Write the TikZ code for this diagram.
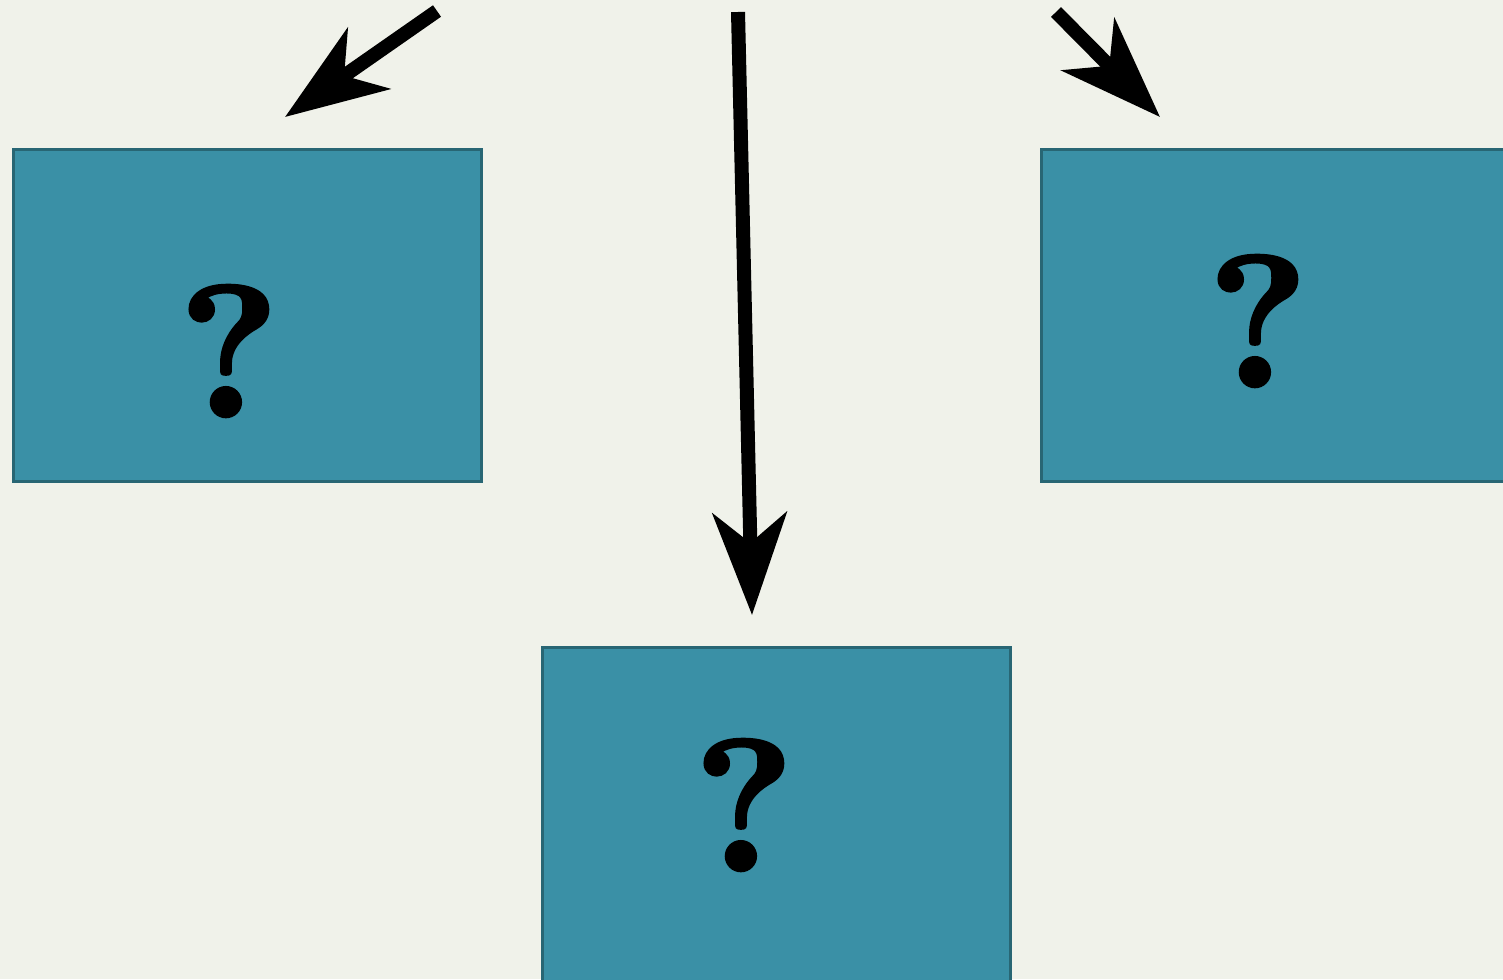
\documentclass[tikz,border=0pt]{standalone}
\usepackage{fontspec}
\newfontfamily\qfont[FakeBold=1.6]{lmroman10-bold.otf}
\usetikzlibrary{arrows.meta}
\definecolor{bg}{RGB}{240,242,234}
\definecolor{boxfill}{RGB}{58,144,166}
\definecolor{boxline}{RGB}{40,102,116}
\tikzset{
  qbox/.style={draw=boxline, line width=3pt, fill=boxfill, inner sep=0pt},
  qmark/.style={inner sep=0pt, font=\fontsize{188}{188}\qfont},
  bigarrow/.style={line width=14pt, line cap=butt,
    -{Stealth[length=102pt, width=74pt, inset=30pt]}}
}
\begin{document}
\begin{tikzpicture}[x=1pt, y=-1pt]
\useasboundingbox (0,0) rectangle (1503,979);
\clip (0,0) rectangle (1503,979);
\fill[bg] (0,0) rectangle (1503,979);
% boxes
\node[qbox, minimum width=468pt, minimum height=332pt, anchor=north west] (bl) at (12,148) {};
\node[qbox, minimum width=490pt, minimum height=332pt, anchor=north west] (br) at (1040,148) {};
\node[qbox, minimum width=468pt, minimum height=360pt, anchor=north west] (bb) at (541,646) {};
% question marks
\node[qmark] (ql) at (229,351) {?};
\node[qmark] (qr) at (1258,321) {?};
\node[qmark] (qb) at (744,805) {?};
% arrows
\coordinate (s1) at (437,11);
\coordinate (t1) at (285,117);
\coordinate (s2) at (738,12);
\coordinate (t2) at (752,615);
\coordinate (s3) at (1056,12);
\coordinate (t3) at (1160,117);
\draw[bigarrow] (s1) -- (t1);
\draw[bigarrow] (s2) -- (t2);
\draw[bigarrow] (s3) -- (t3);
\end{tikzpicture}
\end{document}
